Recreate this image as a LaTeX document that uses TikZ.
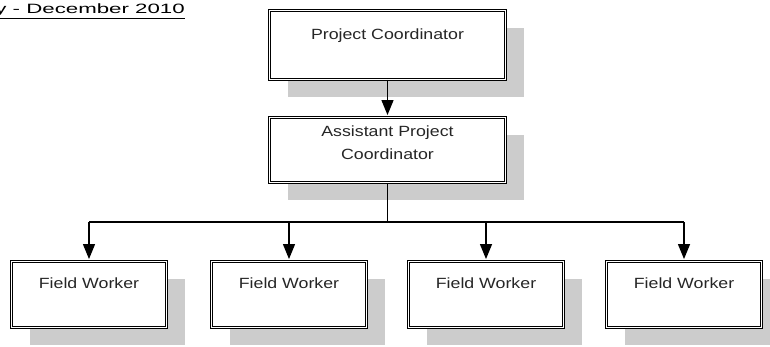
\documentclass[tikz,border=0pt]{standalone}
\usepackage{fontspec}
\newfontfamily\boxfont{Liberation Sans}[FakeStretch=1.2]
\newfontfamily\titlefont{Liberation Sans}[FakeStretch=1.65]
\usetikzlibrary{arrows.meta,shadows}
\begin{document}
\begin{tikzpicture}[x=1pt, y=-1pt, line join=miter, >={Triangle[length=15pt,width=12pt]}]
\tikzset{
  box/.style={draw, double, double distance=1.6pt, line width=0.9pt, fill=white,
    drop shadow={shadow xshift=18pt, shadow yshift=-17pt, fill=black!20, opacity=1}},
  lbl/.style={font=\boxfont\fontsize{14.8}{23}\selectfont, text=black!85, align=center, inner sep=0pt},
  link/.style={line width=1.3pt}
}
\useasboundingbox (0,0) rectangle (770,346);
\clip (0,0) rectangle (770,346);
% period heading, runs off the left edge
\node[anchor=base east, inner sep=0pt, font=\titlefont\fontsize{13.5}{16}\selectfont] (period) at (185,13.5) {\underline{y - December 2010}};
% coordinators
\node[box, minimum width=236pt, minimum height=69pt] (pc) at (387.5,45) {};
\node[box, minimum width=236pt, minimum height=65pt] (apc) at (387.5,150) {};
\node[lbl, anchor=base] (pc-t) at ([yshift=-29pt]pc.north) {Project Coordinator};
\node[lbl, anchor=base] (apc-t) at ([yshift=-42.5pt]apc.north) {Assistant Project\\Coordinator};
% field workers
\foreach \i/\x in {1/89, 2/289, 3/486, 4/684}{
  \node[box, minimum width=155pt, minimum height=66pt] (fw\i) at (\x,294.5) {};
  \node[lbl, anchor=base] (fw\i-t) at ([yshift=-27pt]fw\i.north) {Field Worker};
}
% connectors
\coordinate (bus) at (387.5,222);
\draw[link, ->, shorten >=2pt] (pc) -- (apc);
\draw[link] (apc.south) -- (bus);
\draw[link] (bus -| fw1) -- (bus -| fw4);
\foreach \i in {1,...,4}\draw[link, ->, shorten >=2pt] (bus -| fw\i) -- (fw\i.north);
\end{tikzpicture}
\end{document}
